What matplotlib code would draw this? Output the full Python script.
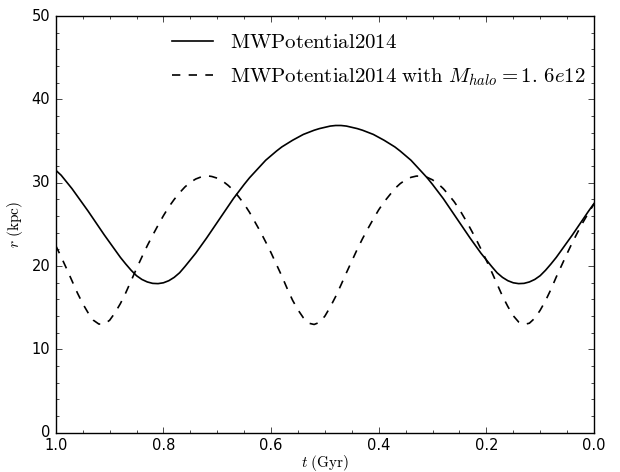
import matplotlib
matplotlib.use("Agg")
import matplotlib.pyplot as plt
from matplotlib.ticker import MultipleLocator

# orbit radius vs lookback time
t_gyr = [
    1.00, 0.99, 0.98, 0.97, 0.96, 0.95, 0.94, 0.93, 0.92, 0.91,
    0.90, 0.89, 0.88, 0.87, 0.86, 0.85, 0.84, 0.83, 0.82, 0.81,
    0.80, 0.79, 0.78, 0.77, 0.76, 0.75, 0.74, 0.73, 0.72, 0.71,
    0.70, 0.69, 0.68, 0.67, 0.66, 0.65, 0.64, 0.63, 0.62, 0.61,
    0.60, 0.59, 0.58, 0.57, 0.56, 0.55, 0.54, 0.53, 0.52, 0.51,
    0.50, 0.49, 0.48, 0.47, 0.46, 0.45, 0.44, 0.43, 0.42, 0.41,
    0.40, 0.39, 0.38, 0.37, 0.36, 0.35, 0.34, 0.33, 0.32, 0.31,
    0.30, 0.29, 0.28, 0.27, 0.26, 0.25, 0.24, 0.23, 0.22, 0.21,
    0.20, 0.19, 0.18, 0.17, 0.16, 0.15, 0.14, 0.13, 0.12, 0.11,
    0.10, 0.09, 0.08, 0.07, 0.06, 0.05, 0.04, 0.03, 0.02, 0.01,
    0.00,
]

r_mw2014 = [
    31.5, 30.9, 30.1, 29.3, 28.4, 27.5, 26.6, 25.65, 24.7, 23.75,
    22.85, 21.95, 21.05, 20.25, 19.5, 18.85, 18.4, 18.1, 17.93, 17.9,
    18.0, 18.25, 18.65, 19.2, 19.95, 20.75, 21.55, 22.45, 23.35, 24.3,
    25.25, 26.2, 27.15, 28.1, 28.95, 29.8, 30.6, 31.3, 32.0, 32.7,
    33.25, 33.8, 34.3, 34.7, 35.1, 35.45, 35.8, 36.05, 36.3, 36.5,
    36.65, 36.8, 36.87, 36.87, 36.8, 36.65, 36.5, 36.3, 36.05, 35.8,
    35.45, 35.1, 34.7, 34.3, 33.8, 33.25, 32.7, 32.0, 31.3, 30.6,
    29.8, 28.95, 28.1, 27.15, 26.2, 25.25, 24.3, 23.35, 22.45, 21.55,
    20.75, 19.95, 19.2, 18.65, 18.25, 18.0, 17.9, 17.93, 18.1, 18.4,
    18.85, 19.5, 20.25, 21.05, 21.95, 22.85, 23.75, 24.7, 25.65, 26.6,
    27.5,
]

r_heavy_halo = [
    22.45, 21.1, 19.7, 18.25, 16.8, 15.5, 14.4, 13.5, 13.05, 13.05,
    13.5, 14.4, 15.5, 16.8, 18.25, 19.7, 21.1, 22.45, 23.7, 24.9,
    26.05, 27.1, 28.0, 28.8, 29.5, 30.05, 30.45, 30.7, 30.85, 30.75,
    30.55, 30.2, 29.7, 29.1, 28.3, 27.45, 26.45, 25.3, 24.15, 22.9,
    21.6, 20.2, 18.8, 17.3, 15.9, 14.75, 13.8, 13.15, 13.0, 13.25,
    14.0, 15.1, 16.35, 17.75, 19.2, 20.6, 22.0, 23.3, 24.5, 25.65,
    26.75, 27.7, 28.5, 29.3, 29.9, 30.35, 30.65, 30.8, 30.8, 30.65,
    30.35, 29.9, 29.3, 28.55, 27.75, 26.8, 25.7, 24.55, 23.35, 22.05,
    20.7, 19.3, 17.85, 16.4, 15.15, 14.05, 13.3, 13.0, 13.15, 13.75,
    14.7, 15.85, 17.2, 18.7, 20.1, 21.5, 22.85, 24.1, 25.3, 26.4,
    27.45,
]

labels = [r"$\mathrm{MWPotential2014}$",
          r"$\mathrm{MWPotential2014\ with\ }M_{halo}=1.\,6e12$"]

plt.style.use("classic")
plt.rcParams["mathtext.fontset"] = "cm"
plt.rcParams["font.family"] = "DejaVu Sans"

fig = plt.figure(figsize=(6.2, 4.72), dpi=100, facecolor="white")
ax = fig.add_axes([0.090, 0.083, 0.868, 0.883])

ax.plot(t_gyr, r_mw2014, "k-", lw=1.2, label=labels[0])
ax.plot(t_gyr, r_heavy_halo, "k--", lw=1.2, label=labels[1])

ax.set_xlim(1.0, 0.0)
ax.set_ylim(0, 50)
ax.xaxis.set_major_locator(MultipleLocator(0.2))
ax.xaxis.set_minor_locator(MultipleLocator(0.05))
ax.yaxis.set_major_locator(MultipleLocator(10))
ax.yaxis.set_minor_locator(MultipleLocator(2))
ax.tick_params(labelsize=10.5)

ax.set_xlabel(r"$t\ \mathrm{(Gyr)}$", fontsize=11, labelpad=0)
ax.set_ylabel(r"$r\ \mathrm{(kpc)}$", fontsize=11, labelpad=5)

ax.legend(loc="upper left", frameon=False, fontsize=15, handlelength=2.0,
          handletextpad=0.8, labelspacing=0.7, borderpad=0, borderaxespad=0,
          numpoints=1, bbox_to_anchor=(0.215, 0.962))

fig.savefig("out.png", dpi=100, facecolor="white")
